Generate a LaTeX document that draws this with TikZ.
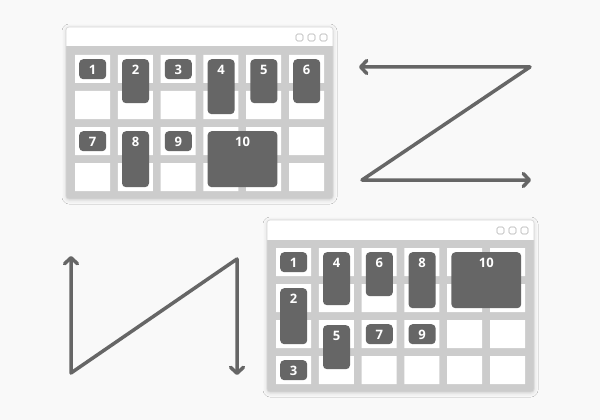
\documentclass[tikz,border=0pt]{standalone}
\usepackage{fontspec}
\setsansfont{Open Sans}
\usetikzlibrary{arrows.meta}
\usetikzlibrary{shadows.blur}
\definecolor{bg}{HTML}{F9F9F9}
\definecolor{body}{HTML}{CCCCCC}
\definecolor{ink}{HTML}{666666}
\definecolor{edge}{HTML}{D6D6D6}
\definecolor{btn}{HTML}{AFAFAF}

\begin{document}
\begin{tikzpicture}[x=1pt, y=-1pt,
    tile/.style={fill=ink, rounded corners=4pt, inner sep=0pt, anchor=north west,
        minimum width=27pt, text height=15pt, text=white,
        font=\sffamily\bfseries\fontsize{13}{13}\selectfont},
    wide/.style={minimum width=69.8pt},
    cell/.style={fill=white},
    flow/.style={draw=ink, line width=3.5pt, line cap=round, line join=round,
        {Straight Barb[length=6pt,width=13pt,round]}-{Straight Barb[length=6pt,width=13pt,round]}}]

            % Draw the page
            \useasboundingbox (0,0) rectangle (600,420);
            \fill[bg] (0,0) rectangle (600,420);

            % Draw the first window
            \fill[white, rounded corners=3pt, blur shadow={shadow xshift=0pt, shadow yshift=-1pt, shadow blur radius=4pt, shadow opacity=15}] (66,27) rectangle (333,199);
            \begin{scope}
                \clip (60,47) rectangle (340,205);
                \fill[body, rounded corners=3pt] (66,27) rectangle (333,199);
            \end{scope}
            \draw[edge, line width=0.6pt, rounded corners=3pt] (66,27) rectangle (333,199);
            \draw[btn, fill=white, line width=0.6pt, rounded corners=1.5pt] (296,34) rectangle ++(7,7) (308,34) rectangle ++(7,7) (320,34) rectangle ++(7,7);

            \fill[cell] (75,55) rectangle ++(35,28) (117.8,55) rectangle ++(35,28) (160.6,55) rectangle ++(35,28) (203.4,55) rectangle ++(35,28) (246.2,55) rectangle ++(35,28) (289,55) rectangle ++(35,28);
            \fill[cell] (75,91) rectangle ++(35,28) (117.8,91) rectangle ++(35,28) (160.6,91) rectangle ++(35,28) (203.4,91) rectangle ++(35,28) (246.2,91) rectangle ++(35,28) (289,91) rectangle ++(35,28);
            \fill[cell] (75,127) rectangle ++(35,28) (117.8,127) rectangle ++(35,28) (160.6,127) rectangle ++(35,28) (203.4,127) rectangle ++(35,28) (246.2,127) rectangle ++(35,28) (289,127) rectangle ++(35,28);
            \fill[cell] (75,163) rectangle ++(35,28) (117.8,163) rectangle ++(35,28) (160.6,163) rectangle ++(35,28) (203.4,163) rectangle ++(35,28) (246.2,163) rectangle ++(35,28) (289,163) rectangle ++(35,28);

            \node[tile, text depth=5pt] (a1) at (79,59) {1};
            \node[tile, text depth=29pt] (a2) at (121.8,59) {2};
            \node[tile, text depth=5pt] (a3) at (164.6,59) {3};
            \node[tile, text depth=40pt] (a4) at (207.4,59) {4};
            \node[tile, text depth=29pt] (a5) at (250.2,59) {5};
            \node[tile, text depth=29pt] (a6) at (293,59) {6};
            \node[tile, text depth=5pt] (a7) at (79,131) {7};
            \node[tile, text depth=41pt] (a8) at (121.8,131) {8};
            \node[tile, text depth=5pt] (a9) at (164.6,131) {9};
            \node[tile, wide, text depth=41pt] (a10) at (207.4,131) {10};

            % Draw the second window
            \begin{scope}[shift={(201,193)}]
                \fill[white, rounded corners=3pt, blur shadow={shadow xshift=0pt, shadow yshift=-1pt, shadow blur radius=4pt, shadow opacity=15}] (66,27) rectangle (333,199);
                \begin{scope}
                    \clip (60,47) rectangle (340,205);
                    \fill[body, rounded corners=3pt] (66,27) rectangle (333,199);
                \end{scope}
                \draw[edge, line width=0.6pt, rounded corners=3pt] (66,27) rectangle (333,199);
                \draw[btn, fill=white, line width=0.6pt, rounded corners=1.5pt] (296,34) rectangle ++(7,7) (308,34) rectangle ++(7,7) (320,34) rectangle ++(7,7);

                \fill[cell] (75,55) rectangle ++(35,28) (117.8,55) rectangle ++(35,28) (160.6,55) rectangle ++(35,28) (203.4,55) rectangle ++(35,28) (246.2,55) rectangle ++(35,28) (289,55) rectangle ++(35,28);
                \fill[cell] (75,91) rectangle ++(35,28) (117.8,91) rectangle ++(35,28) (160.6,91) rectangle ++(35,28) (203.4,91) rectangle ++(35,28) (246.2,91) rectangle ++(35,28) (289,91) rectangle ++(35,28);
                \fill[cell] (75,127) rectangle ++(35,28) (117.8,127) rectangle ++(35,28) (160.6,127) rectangle ++(35,28) (203.4,127) rectangle ++(35,28) (246.2,127) rectangle ++(35,28) (289,127) rectangle ++(35,28);
                \fill[cell] (75,163) rectangle ++(35,28) (117.8,163) rectangle ++(35,28) (160.6,163) rectangle ++(35,28) (203.4,163) rectangle ++(35,28) (246.2,163) rectangle ++(35,28) (289,163) rectangle ++(35,28);

                \node[tile, text depth=5pt] (b1) at (79,59) {1};
                \node[tile, text depth=41pt] (b2) at (79,95) {2};
                \node[tile, text depth=5pt] (b3) at (79,167) {3};
                \node[tile, text depth=38pt] (b4) at (121.8,59) {4};
                \node[tile, text depth=29pt] (b5) at (121.8,132) {5};
                \node[tile, text depth=29pt] (b6) at (164.6,59) {6};
                \node[tile, text depth=5pt] (b7) at (164.6,131) {7};
                \node[tile, text depth=41pt] (b8) at (207.4,59) {8};
                \node[tile, text depth=5pt] (b9) at (207.4,131) {9};
                \node[tile, wide, text depth=41pt] (b10) at (250.2,59) {10};
            \end{scope}

            % Draw the Z order
            \coordinate (z1) at (359,67);
            \coordinate (z2) at (530,67);
            \coordinate (z3) at (362,180);
            \coordinate (z4) at (531,180);
            \draw[flow] (z1) -- (z2) -- (z3) -- (z4);

            % Draw the N order
            \coordinate (n1) at (71,256);
            \coordinate (n2) at (71,373);
            \coordinate (n3) at (237,259);
            \coordinate (n4) at (237,375);
            \draw[flow] (n1) -- (n2) -- (n3) -- (n4);

        \end{tikzpicture}
\end{document}
